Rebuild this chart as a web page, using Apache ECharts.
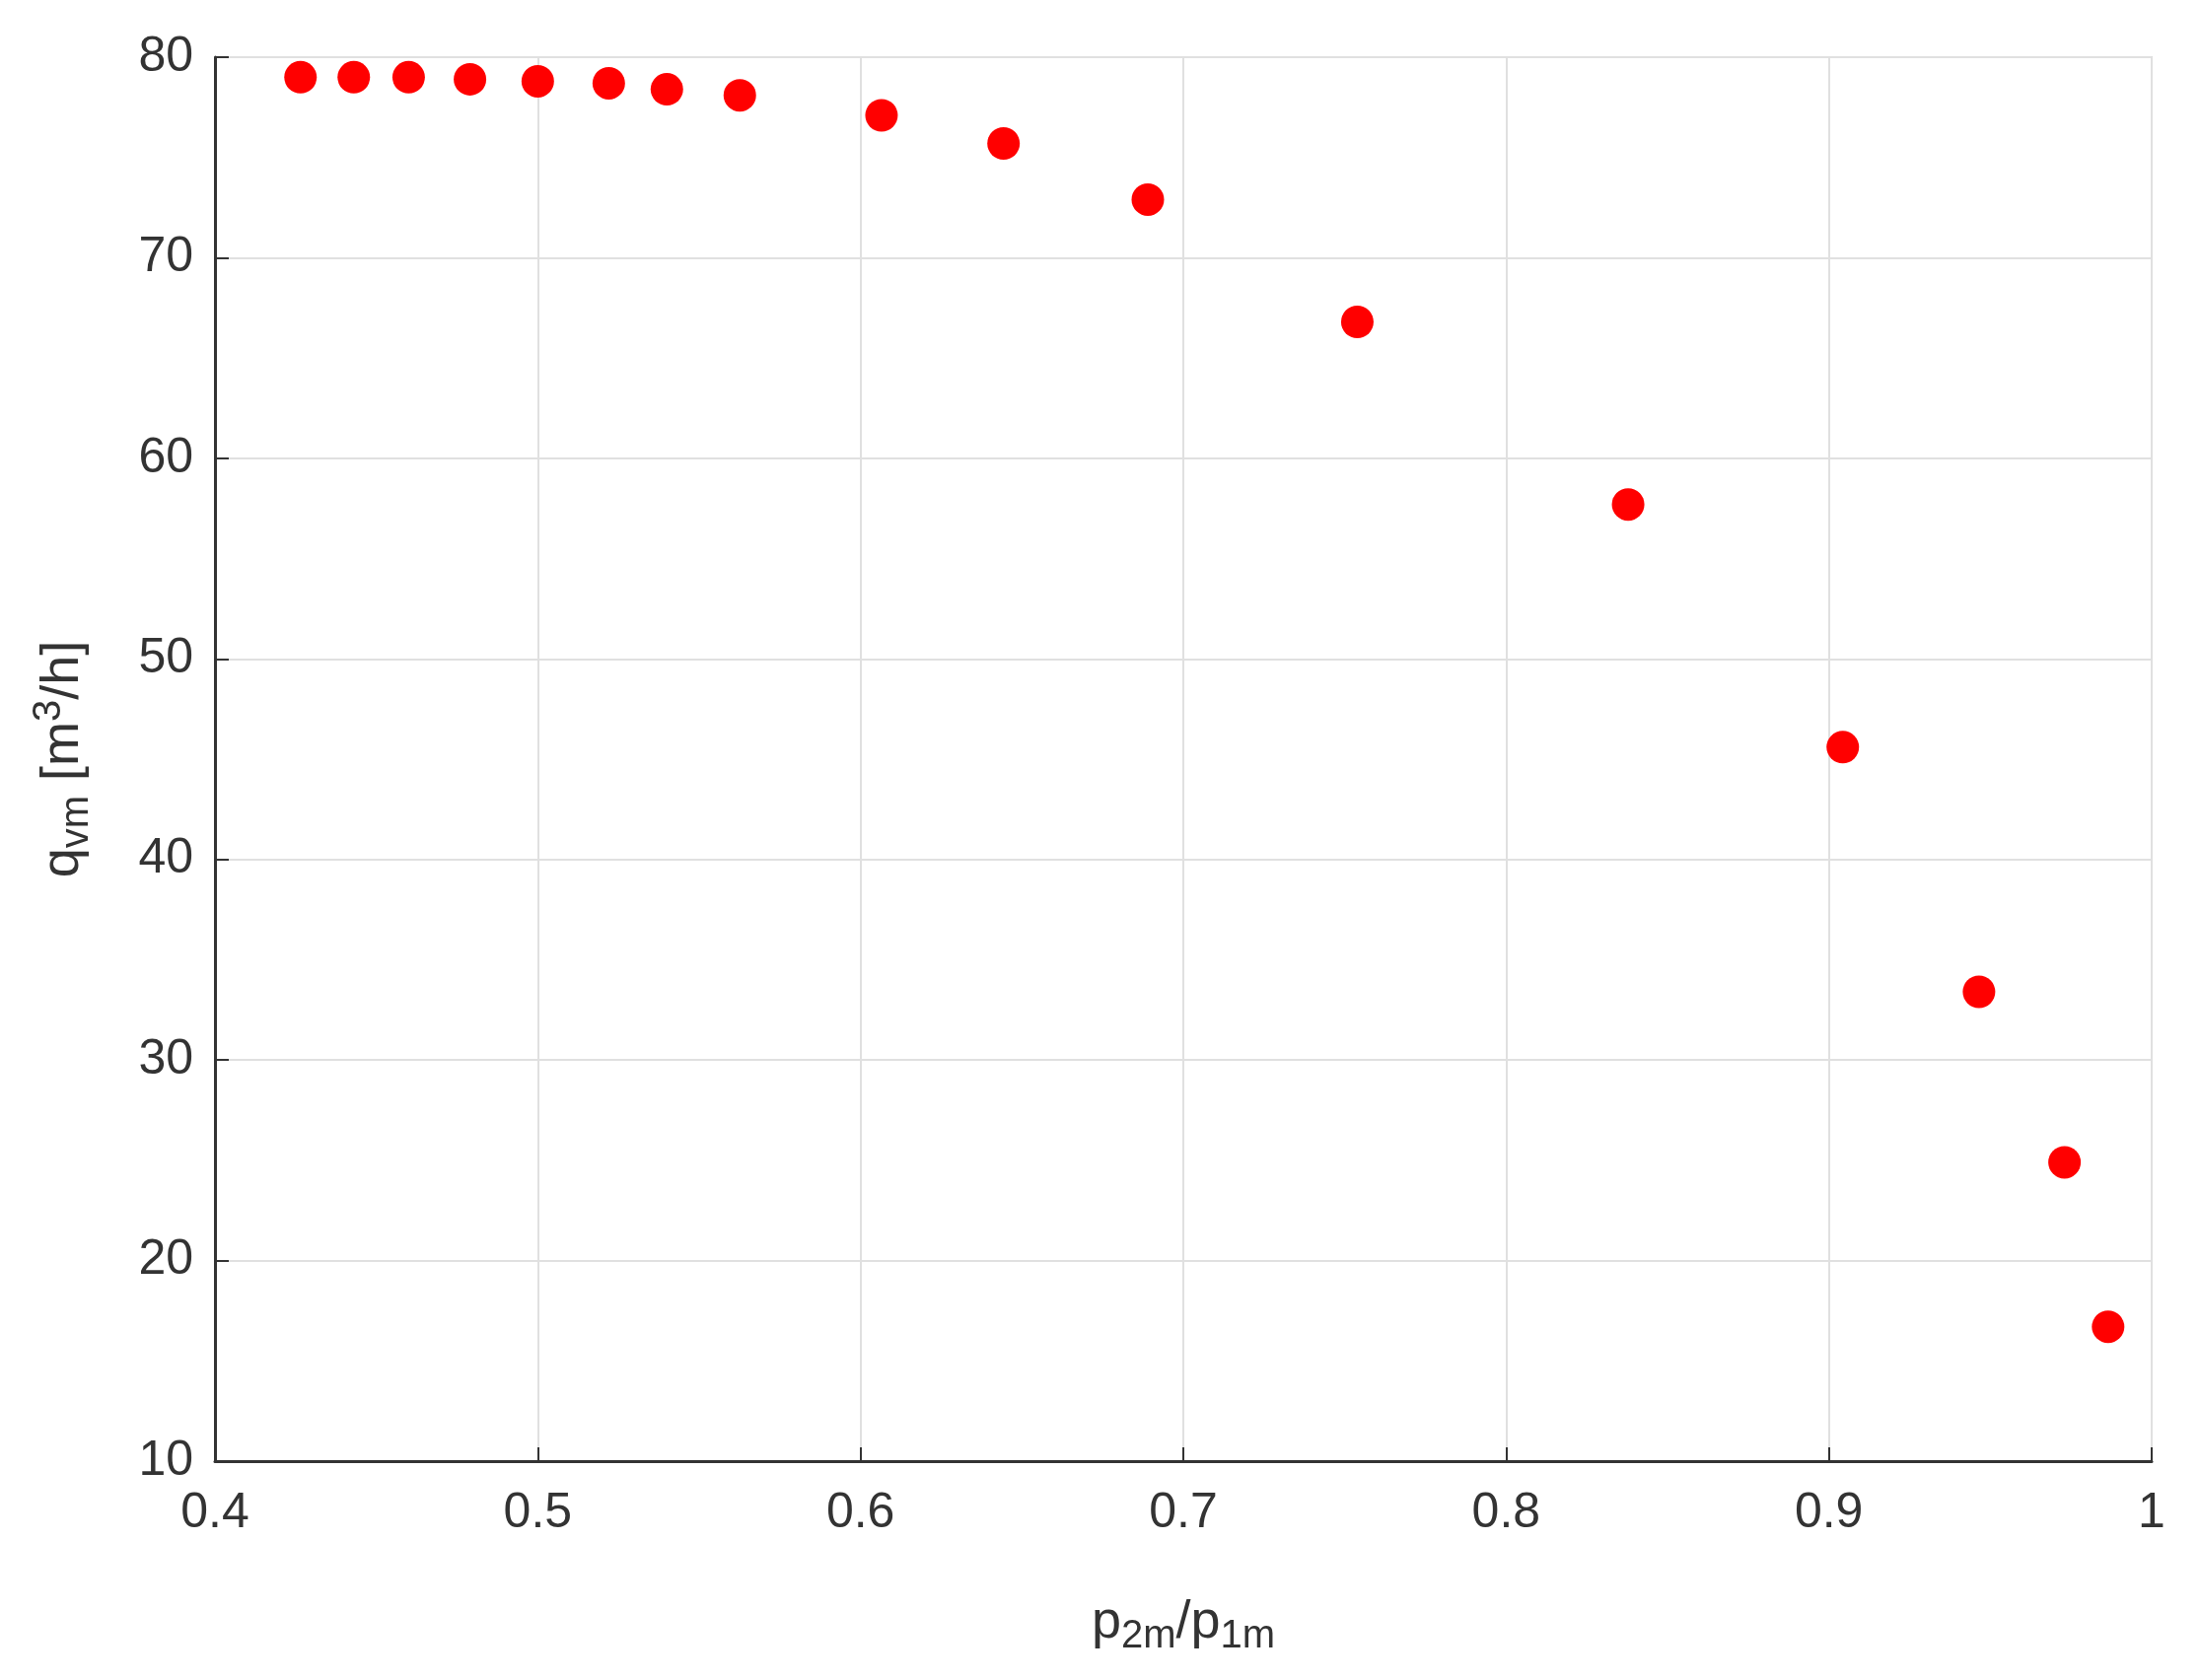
<!DOCTYPE html>
<html>
<head>
<meta charset="utf-8">
<script src="https://cdn.jsdelivr.net/npm/echarts@6/dist/echarts.min.js"></script>
<style>html,body{margin:0;background:#fff}#chart{width:2231px;height:1704px}</style>
</head>
<body>
<div id="chart"></div>
<script>
// pressure ratio p2m/p1m
const ratio = [0.4265, 0.443, 0.460, 0.479, 0.500, 0.522, 0.540, 0.5626, 0.6065, 0.6443, 0.689, 0.7539, 0.8378, 0.9043, 0.9465, 0.973, 0.9865];
// flow qvm [m3/h]
const flow = [79.0, 79.0, 79.0, 78.9, 78.8, 78.7, 78.4, 78.1, 77.1, 75.7, 72.9, 66.8, 57.7, 45.6, 33.4, 24.9, 16.7];

const font = '"Liberation Sans Narrow", "Liberation Sans", Arial, sans-serif';
const chart = echarts.init(document.getElementById('chart'));

chart.setOption({
  animation: false,
  grid: { left: 218, right: 49, top: 58, bottom: 222, show: true, borderColor: '#dcdcdc', borderWidth: 2 },
  xAxis: {
    type: 'value', min: 0.4, max: 1, interval: 0.1,
    name: '{b|p}{s|2m}{b|/p}{s|1m}', nameLocation: 'middle', nameGap: 130,
    nameTextStyle: { rich: {
      b: { fontSize: 54, fontFamily: font, color: '#333' },
      s: { fontSize: 40, fontFamily: font, color: '#333', padding: [28, 0, 0, 0] }
    } },
    axisLine: { lineStyle: { color: '#333', width: 3 } },
    axisTick: { inside: true, length: 14, lineStyle: { color: '#333', width: 2 } },
    axisLabel: { fontSize: 50, fontFamily: font, color: '#333', margin: 28,
      formatter: v => v === 1 ? '1' : v.toFixed(1) },
    splitLine: { lineStyle: { color: '#e0e0e0', width: 2 } }
  },
  yAxis: {
    type: 'value', min: 10, max: 80, interval: 10,
    name: '{b|q}{s|vm}{b| [m}{p|3}{b|/h]}', nameLocation: 'middle', nameGap: 120,
    nameTextStyle: { rich: {
      b: { fontSize: 54, fontFamily: font, color: '#333' },
      s: { fontSize: 40, fontFamily: font, color: '#333', padding: [28, 0, 0, 0] },
      p: { fontSize: 40, fontFamily: font, color: '#333', padding: [0, 0, 28, 0] }
    } },
    axisLine: { lineStyle: { color: '#333', width: 3 } },
    axisTick: { inside: true, length: 14, lineStyle: { color: '#333', width: 2 } },
    axisLabel: { fontSize: 50, fontFamily: font, color: '#333', margin: 22 },
    splitLine: { lineStyle: { color: '#e0e0e0', width: 2 } }
  },
  series: [{
    type: 'scatter',
    data: ratio.map((r, i) => [r, flow[i]]),
    symbolSize: 33,
    itemStyle: { color: '#ff0000', opacity: 1 }
  }]
});
</script>
</body>
</html>
